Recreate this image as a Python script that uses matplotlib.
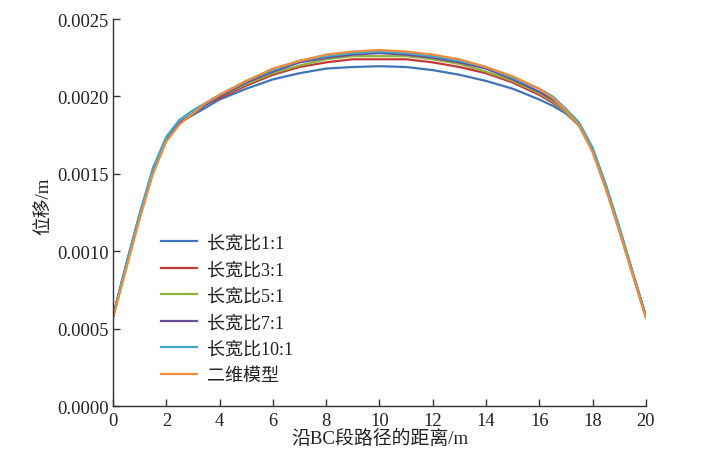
import matplotlib
matplotlib.use('Agg')
import matplotlib.pyplot as plt
from matplotlib.ticker import FormatStrFormatter

plt.rcParams['font.family'] = ['Liberation Serif', 'Noto Sans CJK SC']

# distance along BC (m)
x = [0, 0.5, 1, 1.5, 2, 2.5, 3, 3.5, 4, 5, 6, 7, 8, 9, 10, 11, 12, 13, 14,
     15, 16, 16.5, 17, 17.5, 18, 18.5, 19, 19.5, 20]

r1_1 = [0.00058, 0.00092, 0.00124, 0.00153, 0.00173, 0.00183, 0.00188, 0.00193,
        0.00198, 0.00205, 0.00211, 0.00215, 0.00218, 0.00219, 0.002195, 0.00219,
        0.00217, 0.00214, 0.00210, 0.00205, 0.00198, 0.00194, 0.00189, 0.00181,
        0.00166, 0.00142, 0.00114, 0.00086, 0.00058]
r3_1 = [0.00058, 0.00091, 0.00123, 0.00152, 0.00172, 0.00183, 0.00189, 0.00195,
        0.00199, 0.00207, 0.00214, 0.00219, 0.00222, 0.00224, 0.00224, 0.00224,
        0.00222, 0.00219, 0.00215, 0.00209, 0.00201, 0.00196, 0.00190, 0.00181,
        0.00165, 0.00141, 0.00114, 0.00086, 0.00058]
r5_1 = [0.00058, 0.00091, 0.00123, 0.00152, 0.00172, 0.00183, 0.00189, 0.00195,
        0.00200, 0.00208, 0.00215, 0.00220, 0.00224, 0.00226, 0.00226, 0.00226,
        0.00224, 0.00221, 0.00216, 0.00210, 0.00202, 0.00197, 0.00190, 0.00181,
        0.00165, 0.00141, 0.00114, 0.00086, 0.00058]
r7_1 = [0.00058, 0.00091, 0.00123, 0.00152, 0.00172, 0.00183, 0.00189, 0.00195,
        0.00200, 0.00209, 0.00216, 0.00222, 0.00225, 0.00227, 0.00228, 0.00227,
        0.00225, 0.00222, 0.00218, 0.00211, 0.00203, 0.00198, 0.00191, 0.00182,
        0.00166, 0.00142, 0.00115, 0.00086, 0.00058]
r10_1 = [0.00058, 0.00092, 0.00124, 0.00154, 0.00174, 0.00185, 0.00191, 0.00196,
         0.00201, 0.00210, 0.00217, 0.00223, 0.00226, 0.00228, 0.00229, 0.00228,
         0.00226, 0.00223, 0.00219, 0.00212, 0.00205, 0.00200, 0.00192, 0.00183,
         0.00167, 0.00143, 0.00116, 0.00087, 0.00058]
model_2d = [0.00057, 0.00089, 0.00121, 0.00150, 0.00171, 0.00182, 0.00189, 0.00196,
            0.00201, 0.00210, 0.00218, 0.00223, 0.00227, 0.00229, 0.00230, 0.00229,
            0.00227, 0.00224, 0.00219, 0.00213, 0.00205, 0.00199, 0.00191, 0.00181,
            0.00164, 0.00140, 0.00113, 0.00085, 0.00057]

labels = ['长宽比1:1', '长宽比3:1', '长宽比5:1', '长宽比7:1', '长宽比10:1', '二维模型']
colors = ['#3f74b9', '#c4373a', '#8fb33f', '#6c4f9c', '#41a8c9', '#f08c3c']
series = [r1_1, r3_1, r5_1, r7_1, r10_1, model_2d]

fig = plt.figure(figsize=(7.2, 4.6), dpi=100)
ax = fig.add_axes([0.157, 0.115, 0.74, 0.8415])

for ys, c, lab in zip(series, colors, labels):
    ax.plot(x, ys, color=c, lw=1.6, label=lab)

ax.set_xlim(0, 20)
ax.set_ylim(0, 0.0025)
ax.set_xticks(range(0, 21, 2))
ax.set_yticks([0, 0.0005, 0.001, 0.0015, 0.002, 0.0025])
ax.yaxis.set_major_formatter(FormatStrFormatter('%.4f'))

for s in ['top', 'right']:
    ax.spines[s].set_visible(False)
for s in ['left', 'bottom']:
    ax.spines[s].set_color('#333333')
    ax.spines[s].set_linewidth(1.0)
ax.tick_params(direction='in', length=5, width=1.0, colors='#333333',
               labelsize=13.3, labelcolor='#222222')
ax.tick_params(axis='x', pad=4)
ax.tick_params(axis='y', pad=3)

ax.set_xlabel('沿BC段路径的距离/m', fontsize=13.6, color='#222222')
ax.set_ylabel('位移/m', fontsize=13.5, color='#222222')
ax.xaxis.set_label_coords(0.5, -0.059)
ax.yaxis.set_label_coords(-0.1144, 0.518)

leg = ax.legend(loc='upper left', bbox_to_anchor=(0.0756, 0.462), frameon=False,
                fontsize=13, handlelength=2.0, labelspacing=0.53,
                handletextpad=0.6, borderaxespad=0)
for t in leg.get_texts():
    t.set_color('#222222')

fig.savefig('out.png', dpi=100)
